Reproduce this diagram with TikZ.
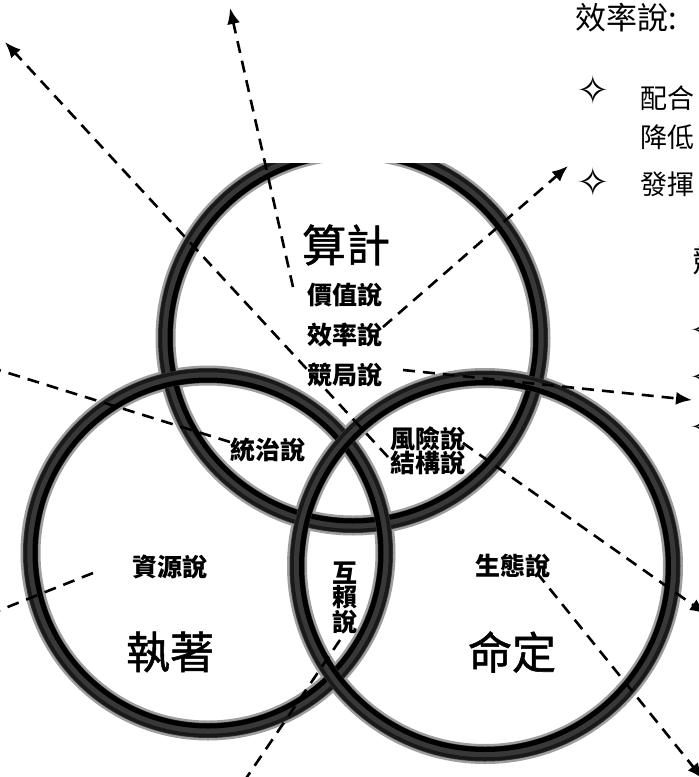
\documentclass[tikz,border=0pt]{standalone}
\usepackage{fontspec}
\newfontfamily\cjk{Noto Sans CJK TC}
\newfontfamily\cjkbig[FakeBold=1.2]{Noto Sans CJK TC}
\newfontfamily\symf{DejaVu Sans}
\usetikzlibrary{arrows.meta}
\tikzset{
  ringfuzz/.style={line width=20pt, black!38},
  ringbody/.style={line width=15pt, black!78},
  ringedge/.style={line width=5pt, black},
  ringedgeo/.style={line width=3.5pt, black!90},
  dashl/.style={dash pattern=on 12pt off 8pt, line width=2.6pt, black},
  dasharrow/.style={dashl, -{Latex[length=16pt,width=13pt]}},
  small/.style={font=\cjk\bfseries\fontsize{25}{23.5}\selectfont, inner sep=0pt, align=center},
  big/.style={font=\cjkbig\fontsize{44}{48}\selectfont, inner sep=0pt},
  head/.style={font=\cjk\fontsize{31}{31}\selectfont, inner sep=0pt, anchor=west},
  body/.style={font=\cjk\fontsize{27}{27}\selectfont, inner sep=0pt, anchor=west},
  bul/.style={font=\symf\fontsize{40}{40}\selectfont, inner sep=0pt, anchor=west},
}
\begin{document}
\begin{tikzpicture}[x=1pt,y=-1pt]
\useasboundingbox (0,0) rectangle (699,777);
\clip (0,0) rectangle (699,777);
\fill[white] (0,0) rectangle (699,777);

% rings (bitmap cropped at top)
\begin{scope}
  \clip (0,163) rectangle (699,777);
  \foreach \cx/\cy/\r in {353/338/187.5, 208/553/177.5, 485/566/188}{
    \draw[ringfuzz] (\cx,\cy) circle[radius=\r];
  }
  \foreach \cx/\cy/\r in {353/338/187.5, 208/553/177.5, 485/566/188}{
    \draw[ringbody] (\cx,\cy) circle[radius=\r];
    \draw[ringedge] (\cx,\cy) circle[radius=\r-4.5];
    \draw[ringedgeo] (\cx,\cy) circle[radius=\r+5];
  }
\end{scope}

% labels inside the circles
\node[big]   (suanji)   at (346,245) {算計};
\node[small] (jiazhi)   at (345,295) {價值說};
\node[small] (xiaolv)   at (345,335) {效率說};
\node[small] (jingju)   at (345,375) {競局說};
\node[small] (tongzhi)  at (268,450) {統治說};
\node[small] (fengxian) at (428,439) {風險說};
\node[small] (jiegou)   at (428,463) {結構說};
\node[small] (ziyuan)   at (170,567) {資源說};
\node[big]   (zhizhu)   at (170,652) {執著};
\node[small] (huilai)   at (345,598) {互\\賴\\說};
\node[small] (shengtai) at (513,566) {生態說};
\node[big]   (mingding) at (512,652) {命定};

% text at the right (cut by the frame, as in the reference)
\node[head] (h1) at (575,18) {效率說:};
\node[bul]  (b1) at (576,90) {✧};
\node[body] (t1) at (640,98) {配合};
\node[body] (t2) at (640,137) {降低};
\node[bul]  (b2) at (576,182) {✧};
\node[body] (t3) at (640,184) {發揮};
\node[head] (h2) at (692,261) {競};
\node[bul]  (b3) at (689,330) {✧};
\node[bul]  (b4) at (689,377) {✧};
\node[bul]  (b5) at (689,427) {✧};

% connector ends
\coordinate (s1) at (293,287);  \coordinate (e1) at (230,8);
\coordinate (s2) at (388,457);  \coordinate (e2) at (5,42);
\coordinate (s3) at (383,327);  \coordinate (e3) at (568,166);
\coordinate (s4) at (403,370);  \coordinate (e4) at (692,400);
\coordinate (s5) at (230,442);  \coordinate (e5) at (-40,358);
\coordinate (s6) at (93,573);   \coordinate (e6) at (-40,626);
\coordinate (s7) at (340,640);  \coordinate (e7) at (230,802);
\coordinate (s8) at (463,443);  \coordinate (e8) at (706,614);
\coordinate (s9) at (537,573);  \coordinate (e9) at (703,779);

\draw[dasharrow] (s1) -- (e1);
\draw[dasharrow] (s2) -- (e2);
\draw[dasharrow] (s3) -- (e3);
\draw[dasharrow] (s4) -- (e4);
\draw[dasharrow] (s5) -- (e5);
\draw[dasharrow] (s6) -- (e6);
\draw[dasharrow] (s7) -- (e7);
\draw[dasharrow] (s8) -- (e8);
\draw[dasharrow] (s9) -- (e9);
\end{tikzpicture}
\end{document}
